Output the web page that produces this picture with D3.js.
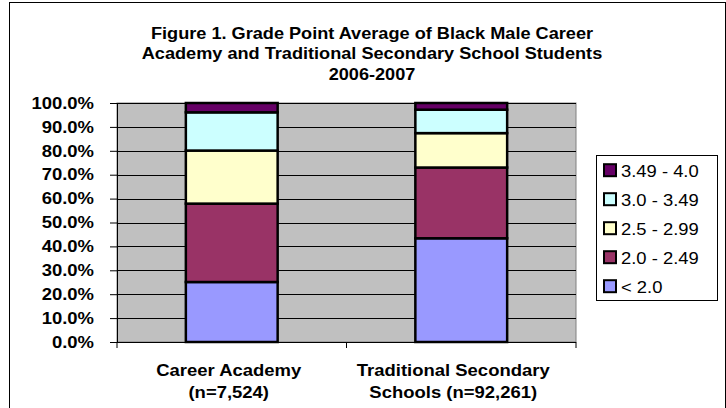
<!DOCTYPE html>
<html>
<head>
<meta charset="utf-8">
<script src="https://cdn.jsdelivr.net/npm/d3@7"></script>
<style>
  body { margin: 0; background: #fff; }
  svg { display: block; font-family: Arial, "Liberation Sans", sans-serif; }
</style>
</head>
<body>
<div id="chart"></div>
<script>
// data (percent of students)
const categories = ['Career Academy', 'Traditional Secondary Schools'];
const categoryLines = [['Career Academy', '(n=7,524)'], ['Traditional Secondary', 'Schools (n=92,261)']];
const series = ['< 2.0', '2.0 - 2.49', '2.5 - 2.99', '3.0 - 3.49', '3.49 - 4.0'];
const careerAcademy = [25.1, 32.8, 22.2, 16.0, 3.9];
const traditional = [43.4, 29.6, 14.4, 9.8, 2.8];
const yTicks = [0, 10, 20, 30, 40, 50, 60, 70, 80, 90, 100];
const titleLines = ['Figure 1. Grade Point Average of Black Male Career',
  'Academy and Traditional Secondary School Students', '2006-2007'];

const colors = ['#9999FF', '#993366', '#FFFFCC', '#CCFFFF', '#660066'];

const width = 726, height = 408;
const plot = { left: 117, right: 576, top: 103, bottom: 342 };
const labelShift = [-3, -8]; // excel centres the labels a bit left of the bars

// the reference text is drawn a little wider than the font
function stretch(el, ax, sx) {
  el.attr('transform', `translate(${ax},0) scale(${sx},1) translate(${-ax},0)`);
}

const rows = categories.map((c, i) => {
  const vals = i === 0 ? careerAcademy : traditional;
  const r = { category: c };
  series.forEach((s, j) => r[s] = vals[j]);
  return r;
});
const stacked = d3.stack().keys(series)(rows);

const svg = d3.select('#chart').append('svg')
  .attr('width', width).attr('height', height);

// outer chart border
svg.append('rect')
  .attr('x', 9.5).attr('y', 2.5).attr('width', 716).attr('height', 420)
  .attr('fill', '#fff').attr('stroke', '#000').attr('stroke-width', 1);

// title
const title = svg.append('text')
  .attr('text-anchor', 'middle')
  .style('font-weight', 'bold').style('font-size', '16.5px');
title.selectAll('tspan').data(titleLines).join('tspan')
  .attr('x', 372).attr('y', (d, i) => 39 + i * 20.5)
  .text(d => d);
stretch(title, 372, 1.1);

const x = d3.scaleBand().domain(categories)
  .range([plot.left, plot.right]).paddingInner(0.6).paddingOuter(0.3);
const y = d3.scaleLinear().domain([0, 100]).range([plot.bottom, plot.top]);

// plot background
svg.append('rect')
  .attr('x', plot.left).attr('y', plot.top)
  .attr('width', plot.right - plot.left).attr('height', plot.bottom - plot.top)
  .attr('fill', '#C0C0C0').attr('stroke', '#808080').attr('stroke-width', 1);

// gridlines
svg.append('g').selectAll('line').data(yTicks.slice(1)).join('line')
  .attr('x1', plot.left).attr('x2', plot.right)
  .attr('y1', d => Math.round(y(d)) + 0.5).attr('y2', d => Math.round(y(d)) + 0.5)
  .attr('stroke', '#000').attr('stroke-width', 1);

// y axis
const yAxis = svg.append('g')
  .attr('transform', `translate(${plot.left},0)`)
  .call(d3.axisLeft(y).tickValues(yTicks).tickSize(7).tickPadding(16)
    .tickFormat(d => d3.format('.1f')(d) + '%'));
yAxis.select('.domain').attr('stroke', '#000');
yAxis.selectAll('.tick line').attr('stroke', '#000');
yAxis.selectAll('text')
  .style('font-size', '16.5px').style('font-weight', 'bold')
  .attr('fill', '#000')
  .each(function () { stretch(d3.select(this), -23, 1.12); });

// bars
svg.append('g').selectAll('g').data(stacked).join('g')
  .attr('fill', (d, i) => colors[i])
  .selectAll('rect').data(d => d).join('rect')
  .attr('x', d => x(d.data.category))
  .attr('y', d => y(d[1]))
  .attr('width', x.bandwidth())
  .attr('height', d => y(d[0]) - y(d[1]))
  .attr('stroke', '#000').attr('stroke-width', 2.5);

// x axis
const xTicks = [plot.left, plot.left + (plot.right - plot.left) / 2, plot.right];
const xAxis = svg.append('g');
xAxis.append('line')
  .attr('x1', plot.left).attr('x2', plot.right)
  .attr('y1', plot.bottom + 0.5).attr('y2', plot.bottom + 0.5)
  .attr('stroke', '#000');
xAxis.selectAll('line.tick').data(xTicks).join('line')
  .attr('class', 'tick')
  .attr('x1', d => d).attr('x2', d => d)
  .attr('y1', plot.bottom).attr('y2', plot.bottom + 6)
  .attr('stroke', '#000');
xAxis.selectAll('text').data(categories).join('text')
  .attr('text-anchor', 'middle')
  .style('font-size', '16.5px').style('font-weight', 'bold')
  .each(function (c, i) {
    const cx = x(c) + x.bandwidth() / 2 + labelShift[i];
    const t = d3.select(this);
    t.selectAll('tspan').data(categoryLines[i]).join('tspan')
      .attr('x', cx).attr('y', (d, k) => 376 + k * 22)
      .text(d => d);
    stretch(t, cx, 1.12);
  });

// legend
const legend = svg.append('g').attr('transform', 'translate(596,155)');
legend.append('rect')
  .attr('x', 0.5).attr('y', 0.5).attr('width', 121).attr('height', 145)
  .attr('fill', '#fff').attr('stroke', '#000');
const items = series.slice().reverse();
const li = legend.selectAll('g.item').data(items).join('g')
  .attr('class', 'item')
  .attr('transform', (d, i) => `translate(0,${15.7 + i * 29})`);
li.append('rect')
  .attr('x', 8).attr('y', -6.5).attr('width', 12).attr('height', 12)
  .attr('fill', d => colors[series.indexOf(d)])
  .attr('stroke', '#000').attr('stroke-width', 2);
li.append('text')
  .attr('x', 25).attr('y', 6)
  .style('font-size', '16px')
  .text(d => d)
  .each(function () { stretch(d3.select(this), 25, 1.15); });
</script>
</body>
</html>
